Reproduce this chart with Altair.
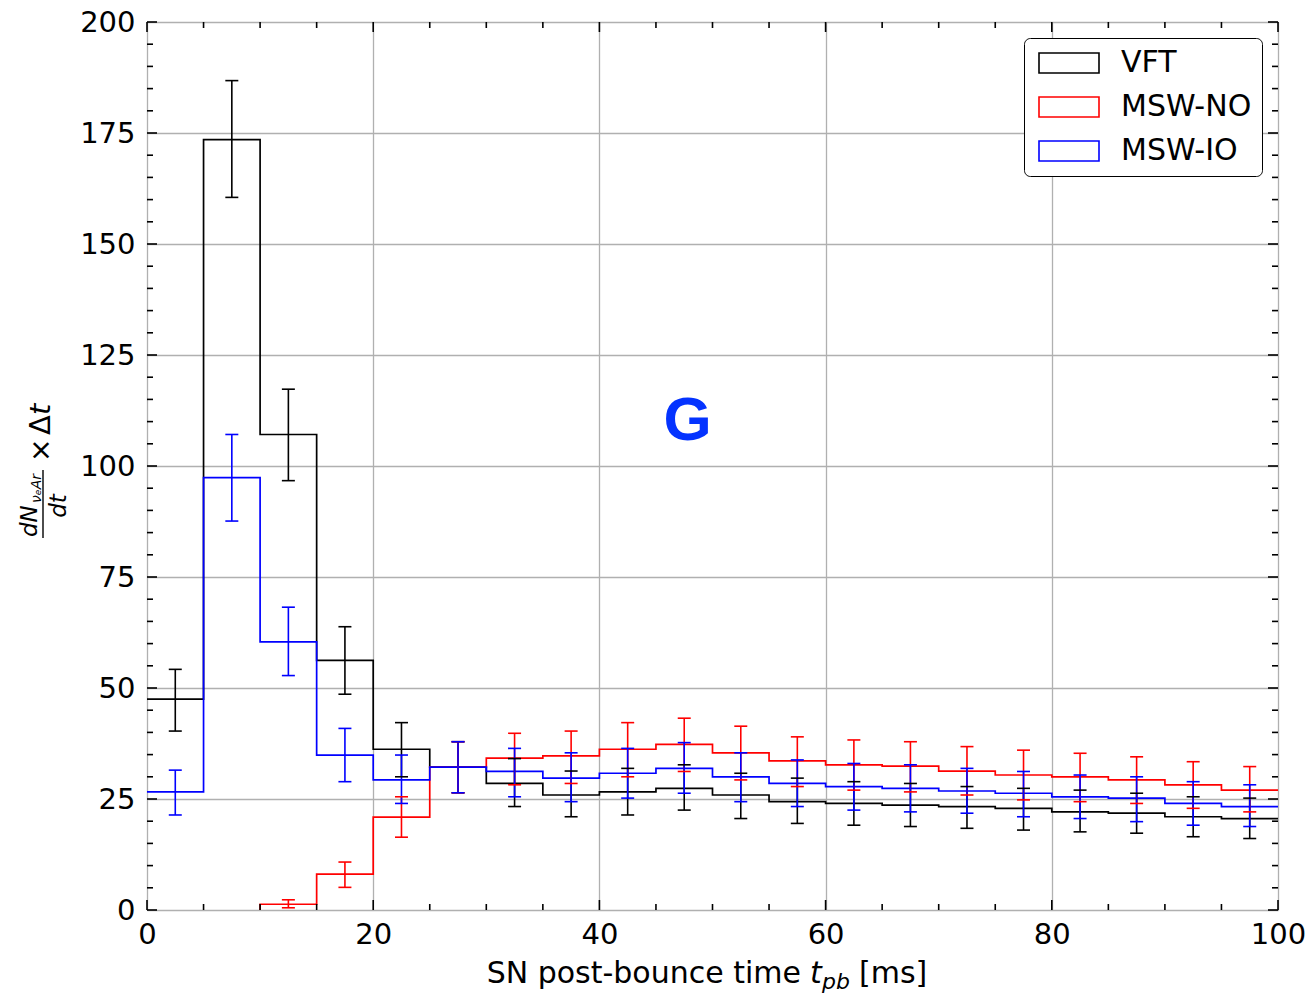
import altair as alt
import pandas as pd

# ---------------- data ----------------
bin_edges = [0, 5, 10, 15, 20, 25, 30, 35, 40, 45, 50, 55, 60, 65, 70, 75, 80, 85, 90, 95, 100]
series_names = ["VFT", "MSW-NO", "MSW-IO"]
series_colors = ["#000000", "#ff0000", "#0000ff"]

vft_vals = [47.5, 173.5, 107.1, 56.2, 36.2, 32.2, 28.5, 25.9, 26.6, 27.4, 25.9, 24.4, 24.0, 23.6, 23.3, 22.9, 22.1, 21.8, 21.0, 20.6]
vft_lo = [40.3, 160.5, 96.7, 48.6, 30.0, 26.4, 23.3, 21.0, 21.4, 22.5, 20.6, 19.5, 19.1, 18.8, 18.4, 18.0, 17.6, 17.3, 16.5, 16.1]
vft_hi = [54.2, 186.8, 117.3, 63.8, 42.2, 37.9, 34.1, 31.3, 31.9, 32.7, 30.8, 29.7, 28.9, 28.5, 27.8, 27.4, 27.0, 26.3, 25.5, 25.2]

no_vals = [0, 0, 1.3, 8.1, 20.9, 32.2, 34.2, 34.7, 36.2, 37.3, 35.4, 33.6, 32.7, 32.4, 31.3, 30.4, 30.0, 29.3, 28.2, 27.0]
no_lo = [None, None, 0.5, 5.1, 16.4, 26.4, 28.2, 28.5, 30.0, 31.2, 29.3, 27.8, 27.0, 26.6, 25.9, 24.8, 24.4, 24.0, 22.9, 22.1]
no_hi = [None, None, 2.3, 10.8, 25.5, 37.9, 39.8, 40.3, 42.2, 43.2, 41.4, 39.0, 38.3, 37.9, 36.8, 36.0, 35.3, 34.5, 33.4, 32.3]

io_vals = [26.6, 97.4, 60.4, 34.9, 29.3, 32.2, 31.2, 29.7, 30.8, 31.9, 30.0, 28.5, 27.8, 27.4, 26.8, 26.3, 25.5, 25.2, 24.0, 23.3]
io_lo = [21.4, 87.6, 52.8, 28.9, 24.0, 26.4, 25.5, 24.4, 25.2, 26.3, 24.4, 23.3, 22.5, 22.1, 21.8, 21.0, 20.6, 19.9, 19.1, 18.8]
io_hi = [31.5, 107.1, 68.2, 40.9, 34.9, 37.9, 36.4, 35.4, 36.4, 37.7, 35.4, 33.8, 33.0, 32.7, 31.9, 31.2, 30.4, 30.0, 28.9, 28.2]

x_major = [0, 20, 40, 60, 80, 100]
x_minor = [5, 10, 15, 25, 30, 35, 45, 50, 55, 65, 70, 75, 85, 90, 95]
y_major = [0, 25, 50, 75, 100, 125, 150, 175, 200]
y_minor = [v for v in range(0, 201, 5) if v % 25 != 0]

panel_label = "G"
panel_label_pos = (47.8, 110.2)

# ---------------- build tables ----------------
all_series = [
    ("VFT", vft_vals, vft_lo, vft_hi),
    ("MSW-NO", no_vals, no_lo, no_hi),
    ("MSW-IO", io_vals, io_lo, io_hi),
]

step_rows, err_rows = [], []
for name, vals, lo, hi in all_series:
    start = next(i for i, v in enumerate(vals) if v > 0)
    o = 0
    if start > 0:  # rise from the baseline only when it is not on the frame
        step_rows.append({"series": name, "x": bin_edges[start], "y": 0, "o": o})
    for i in range(start, len(vals)):
        o += 1
        step_rows.append({"series": name, "x": bin_edges[i], "y": vals[i], "o": o})
        o += 1
        step_rows.append({"series": name, "x": bin_edges[i + 1], "y": vals[i], "o": o})
    for i in range(len(vals)):
        if lo[i] is None:
            continue
        err_rows.append({"series": name, "c": (bin_edges[i] + bin_edges[i + 1]) / 2,
                         "lo": lo[i], "hi": hi[i]})

step_df = pd.DataFrame(step_rows)
err_df = pd.DataFrame(err_rows)

W, H = 1131, 888
FONT = "DejaVu Sans"

xs = alt.Scale(domain=[0, 100], nice=False, zero=False)
ys = alt.Scale(domain=[0, 200], nice=False)
cs = alt.Scale(domain=series_names, range=series_colors)

xaxis = alt.Axis(values=x_major, title=None, grid=True, domain=False, ticks=False, tickSize=0,
                 labelPadding=10, labelFontSize=29, labelFont=FONT, labelColor="black",
                 gridColor="#b0b0b0", gridWidth=1.3, labelFlush=False)
yaxis = alt.Axis(values=y_major, title=None, grid=True, domain=False, ticks=False, tickSize=0,
                 labelPadding=12, labelFontSize=29, labelFont=FONT, labelColor="black",
                 gridColor="#b0b0b0", gridWidth=1.3, labelFlush=False)

legend = alt.Legend(title=None, orient="none", legendX=877, legendY=16,
                    symbolType="M-3,-1H3V1H-3Z", symbolSize=400, symbolStrokeWidth=1.6,
                    symbolFillColor="white", symbolOffset=20, labelOffset=37,
                    labelFontSize=30, labelFont=FONT, labelColor="black",
                    strokeColor="black", fillColor="white", cornerRadius=6,
                    padding=10, rowPadding=14)

stroke_enc = alt.Stroke("series:N", scale=cs, legend=legend, sort=series_names)

lines = alt.Chart(step_df).mark_line(strokeWidth=1.7).encode(
    x=alt.X("x:Q", scale=xs, axis=xaxis),
    y=alt.Y("y:Q", scale=ys, axis=yaxis),
    stroke=stroke_enc,
    order="o:Q",
)

err_v = alt.Chart(err_df).mark_rule(strokeWidth=1.6).encode(
    x=alt.X("c:Q", scale=xs, axis=xaxis),
    y=alt.Y("lo:Q", scale=ys, axis=yaxis),
    y2="hi:Q",
    stroke=stroke_enc,
)
cap_lo = alt.Chart(err_df).mark_rule(strokeWidth=1.6, xOffset=-6.5, x2Offset=6.5).encode(
    x=alt.X("c:Q", scale=xs, axis=xaxis), x2="c:Q",
    y=alt.Y("lo:Q", scale=ys, axis=yaxis),
    stroke=stroke_enc,
)
cap_hi = alt.Chart(err_df).mark_rule(strokeWidth=1.6, xOffset=-6.5, x2Offset=6.5).encode(
    x=alt.X("c:Q", scale=xs, axis=xaxis), x2="c:Q",
    y=alt.Y("hi:Q", scale=ys, axis=yaxis),
    stroke=stroke_enc,
)

# inward ticks on all four sides
def ticks(vals, side, length):
    df = pd.DataFrame({"v": vals})
    base = alt.Chart(df).mark_rule(color="black", strokeWidth=1.6)
    if side == "bottom":
        return base.encode(x=alt.X("v:Q", scale=xs, axis=xaxis), y=alt.value(H), y2=alt.value(H - length))
    if side == "top":
        return base.encode(x=alt.X("v:Q", scale=xs, axis=xaxis), y=alt.value(0), y2=alt.value(length))
    if side == "left":
        return base.encode(y=alt.Y("v:Q", scale=ys, axis=yaxis), x=alt.value(0), x2=alt.value(length))
    return base.encode(y=alt.Y("v:Q", scale=ys, axis=yaxis), x=alt.value(W), x2=alt.value(W - length))

tick_layers = []
for side in ["bottom", "top"]:
    tick_layers.append(ticks(x_major, side, 10))
    tick_layers.append(ticks(x_minor, side, 6))
for side in ["left", "right"]:
    tick_layers.append(ticks(y_major, side, 10))
    tick_layers.append(ticks(y_minor, side, 6))

g_text = alt.Chart(pd.DataFrame({"x": [panel_label_pos[0]], "y": [panel_label_pos[1]], "t": [panel_label]})).mark_text(
    font="Liberation Sans", fontWeight="bold", fontSize=62, color="#0433ff",
    align="center", baseline="middle",
).encode(x=alt.X("x:Q", scale=xs, axis=xaxis), y=alt.Y("y:Q", scale=ys, axis=yaxis), text="t:N")

# axis titles built from pieces (to get italic and subscripts)
one = pd.DataFrame({"a": [0]})
def piece(text, x, y, size, italic=False, angle=0, align="left", baseline="alphabetic"):
    kw = dict(font=FONT, fontSize=size, color="black", align=align, baseline=baseline, angle=angle)
    if italic:
        kw["fontStyle"] = "italic"
    return alt.Chart(one).mark_text(**kw).encode(x=alt.value(x), y=alt.value(y), text=alt.value(text))

title_pieces = [
    piece("SN post-bounce time", 654, 961, 30, align="right"),
    piece("t", 663, 961, 30, italic=True),
    piece("pb", 675, 967, 22, italic=True),
    piece("[ms]", 712, 961, 30),
    # y title, rotated
    piece("dN", -110, 515, 23, italic=True, angle=270),
    piece("νₑAr", -106, 481, 14, italic=True, angle=270),
    piece("dt", -81, 484, 23, italic=True, angle=270, align="center"),
    piece("×", -97, 440, 28, angle=270),
    piece("Δ", -97, 413, 29, angle=270),
    piece("t", -97, 393, 29, italic=True, angle=270),
]
frac_bar = alt.Chart(one).mark_rule(color="black", strokeWidth=1.4).encode(
    x=alt.value(-104), y=alt.value(448), y2=alt.value(516))

chart = alt.layer(
    lines, err_v, cap_lo, cap_hi, *tick_layers, g_text, *title_pieces, frac_bar
).properties(
    width=W, height=H,
    autosize=alt.AutoSizeParams(type="none"),
    padding={"left": 147, "top": 22, "right": 32, "bottom": 87},
).configure_view(
    stroke="black", strokeWidth=1.8
).configure(background="white")

chart.save("out.html", embed_options={"renderer": "svg", "actions": False})
